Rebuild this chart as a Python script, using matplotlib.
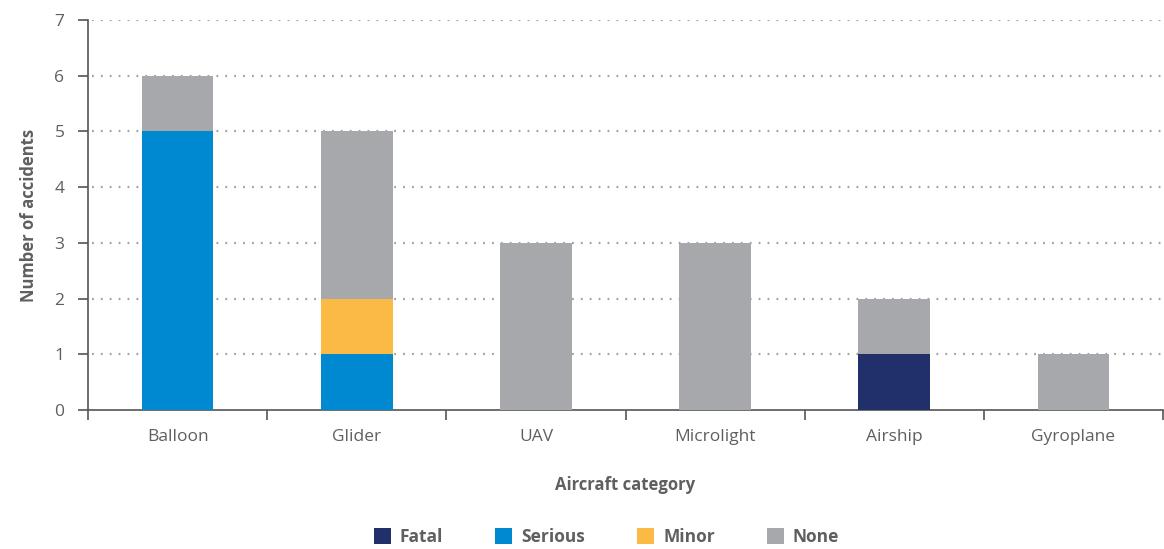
import numpy as np
import matplotlib.pyplot as plt

categories = ['Balloon', 'Glider', 'UAV', 'Microlight', 'Airship', 'Gyroplane']
fatal = [0, 0, 0, 0, 1, 0]
serious = [5, 1, 0, 0, 0, 0]
minor = [0, 1, 0, 0, 0, 0]
none = [1, 3, 3, 3, 1, 1]

series = [('Fatal', fatal, '#21306b'), ('Serious', serious, '#0088d1'),
          ('Minor', minor, '#fbb945'), ('None', none, '#a7a8ab')]

plt.rcParams['font.family'] = ['Open Sans', 'DejaVu Sans']
txt = '#5f5f5f'

fig = plt.figure(figsize=(11.64, 5.49), dpi=100)
ax = fig.add_axes([0.0756, 0.2532, 0.9236, 0.7104])

x = np.arange(len(categories))
bottom = np.zeros(len(categories))
for name, vals, col in series:
    ax.bar(x, vals, 0.4, bottom=bottom, color=col, label=name, zorder=3)
    bottom += np.array(vals)

ax.set_xlim(-0.5, len(categories) - 0.5)
ax.set_ylim(0, 7)
ax.set_yticks(range(8))
for y in range(1, 8):
    ax.plot([-0.48, len(categories) - 0.5], [y, y], color='#a0a0a0', lw=1.6,
            ls=(0, (0.8, 3.2)), zorder=1)

ax.set_xticks(np.arange(-0.5, len(categories), 1.0))
ax.set_xticklabels([])
ax.set_xticks(x, minor=True)
ax.set_xticklabels(categories, minor=True)
ax.tick_params(axis='x', which='minor', length=0, pad=14, labelsize=12.5, labelcolor=txt)
ax.tick_params(axis='x', which='major', length=7, width=1.2, color='#555555')
ax.tick_params(axis='y', length=7, width=1.2, color='#555555', labelsize=12.5,
               labelcolor=txt, pad=10)

for s in ['top', 'right']:
    ax.spines[s].set_visible(False)
for s in ['left', 'bottom']:
    ax.spines[s].set_color('#555555')
    ax.spines[s].set_linewidth(1.2)

ax.set_ylabel('Number of accidents', fontsize=12, fontweight='bold', color=txt, labelpad=12)
ax.set_xlabel('Aircraft category', fontsize=12, fontweight='bold', color=txt, labelpad=22)

leg = fig.legend(loc='center', bbox_to_anchor=(0.521, 0.022), ncol=4, frameon=False,
                 handlelength=1.0, handleheight=1.0, columnspacing=3.0, handletextpad=0.5,
                 prop={'weight': 'bold', 'size': 12.5})
for t in leg.get_texts():
    t.set_color(txt)

fig.savefig('out.png', dpi=100)
